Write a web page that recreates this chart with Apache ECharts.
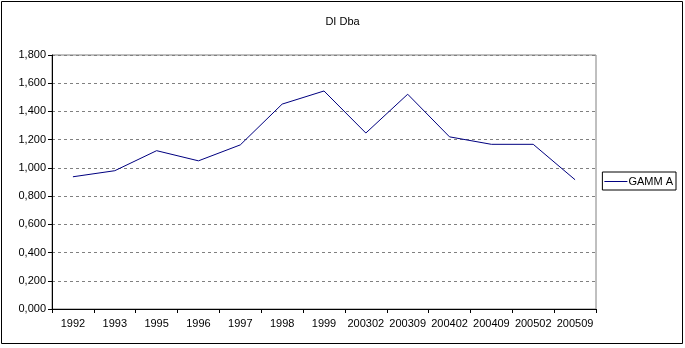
<!DOCTYPE html>
<html><head><meta charset="utf-8">
<script src="https://cdn.jsdelivr.net/npm/echarts@6/dist/echarts.min.js"></script>
<style>html,body{margin:0;padding:0;background:#fff}#c{width:685px;height:348px}</style>
</head><body><div id="c"></div>
<script>
const categories = ['1992','1993','1995','1996','1997','1998','1999','200302','200309','200402','200409','200502','200509'];
const gammaA = [0.937, 0.980, 1.122, 1.050, 1.163, 1.452, 1.545, 1.247, 1.522, 1.220, 1.167, 1.167, 0.916];
const yTicks = {min: 0, max: 1.8, interval: 0.2};
const titleText = 'DI Dba';
const seriesName = 'GAMM A';

const chart = echarts.init(document.getElementById('c'), null, {renderer: 'canvas'});
const font = 'Liberation Sans, Arial, sans-serif';
chart.setOption({
  animation: false,
  backgroundColor: '#fff',
  title: {text: titleText, left: 'center', top: 11, textStyle: {fontFamily: font, fontSize: 11, fontWeight: 'normal', color: '#000'}},
  grid: {left: 52, top: 55, right: 89, bottom: 39, show: true, borderColor: '#808080', borderWidth: 1},
  legend: {
    right: 9, top: 172, orient: 'vertical', data: [seriesName],
    itemWidth: 23, itemHeight: 1, itemGap: 0,
    padding: [4, 3, 3, 2], borderColor: '#000', borderWidth: 1,
    textStyle: {fontFamily: font, fontSize: 11, color: '#000', padding: [0,0,0,-4]},
    icon: 'rect'
  },
  xAxis: {
    type: 'category', data: categories, boundaryGap: true,
    axisLine: {lineStyle: {color: '#000', width: 1}},
    axisTick: {show: true, length: 4, lineStyle: {color: '#000'}, alignWithLabel: false},
    axisLabel: {fontFamily: font, fontSize: 11, color: '#000', margin: 9, interval: 0},
    splitLine: {show: false}
  },
  yAxis: {
    type: 'value', min: yTicks.min, max: yTicks.max, interval: yTicks.interval,
    axisLine: {show: true, lineStyle: {color: '#000', width: 1}},
    axisTick: {show: true, length: 4, lineStyle: {color: '#000'}},
    axisLabel: {fontFamily: font, fontSize: 11, color: '#000', margin: 6,
      formatter: v => v.toFixed(3).replace('.', ',')},
    splitLine: {show: true, lineStyle: {color: '#808080', type: [3, 3], width: 1}}
  },
  series: [{
    name: seriesName, type: 'line', data: gammaA,
    symbol: 'none', lineStyle: {color: '#000080', width: 1}, itemStyle: {color: '#000080'}
  }],
  graphic: [{
    type: 'rect', shape: {x: 1.5, y: 1.5, width: 681, height: 342},
    style: {fill: null, stroke: '#000', lineWidth: 1}, silent: true, z: 100
  }]
});
</script></body></html>
